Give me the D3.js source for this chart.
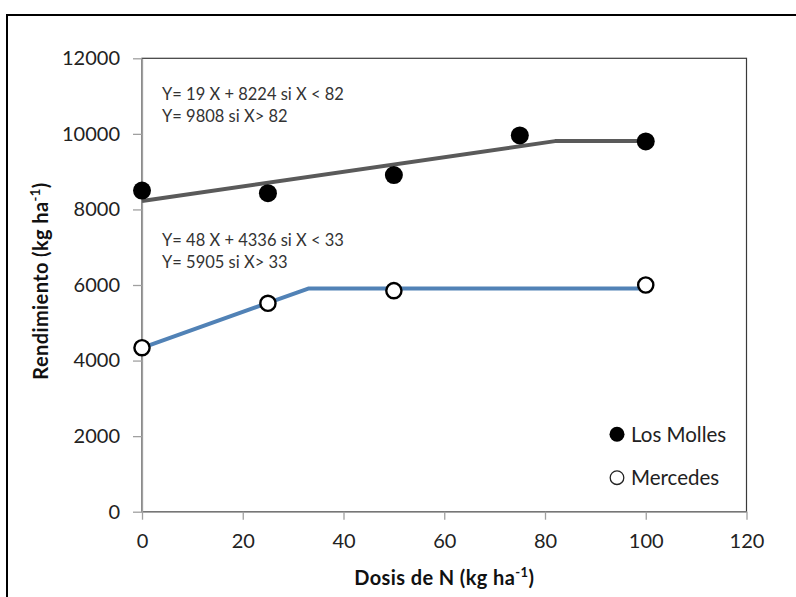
<!DOCTYPE html>
<html>
<head>
<meta charset="utf-8">
<script src="https://cdn.jsdelivr.net/npm/d3@7"></script>
<style>
  html, body { margin: 0; padding: 0; background: #fff; }
  svg { display: block; font-family: Lato, "Open Sans", sans-serif; }
</style>
</head>
<body>
<svg id="chart" width="796" height="597"></svg>
<script>
// Nitrogen dose (kg/ha) and grain yield (kg/ha) per site
const dosesMolles = [0, 25, 50, 75, 100];
const yieldMolles = [8500, 8430, 8910, 9960, 9800];
const dosesMercedes = [0, 25, 50, 100];
const yieldMercedes = [4340, 5515, 5850, 6000];

// Linear-plateau fits: slope, intercept, breakpoint, plateau
const fitMolles = { slope: 19, intercept: 8224, breakpoint: 82, plateau: 9808 };
const fitMercedes = { slope: 48, intercept: 4336, breakpoint: 33, plateau: 5905 };
const fitLabelsMolles = ["Y= 19 X + 8224 si X < 82", "Y= 9808 si X> 82"];
const fitLabelsMercedes = ["Y= 48 X + 4336 si X < 33", "Y= 5905 si X> 33"];

const xTicks = [0, 20, 40, 60, 80, 100, 120];
const yTicks = [0, 2000, 4000, 6000, 8000, 10000, 12000];
const seriesNames = ["Los Molles", "Mercedes"];

const svg = d3.select("#chart");
const plotLeft = 142, plotRight = 746.5, plotTop = 58.3, plotBottom = 511.7;

const x = d3.scaleLinear().domain([0, 120]).range([plotLeft, plotRight]);
const y = d3.scaleLinear().domain([0, 12000]).range([plotBottom, plotTop]);

// outer frame
svg.append("rect")
  .attr("x", 7).attr("y", 15).attr("width", 800).attr("height", 600)
  .attr("fill", "none").attr("stroke", "#000").attr("stroke-width", 2);

// plot area border
svg.append("rect")
  .attr("x", plotLeft).attr("y", plotTop)
  .attr("width", plotRight - plotLeft).attr("height", plotBottom - plotTop)
  .attr("fill", "none").attr("stroke", "#3a3a3a").attr("stroke-width", 1.2);

// axes
const axisColor = "#a0a0a0";
const gx = svg.append("g").attr("transform", `translate(0,${plotBottom})`)
  .call(d3.axisBottom(x).tickValues(xTicks).tickSizeInner(8).tickSizeOuter(0).tickPadding(14));
const gy = svg.append("g").attr("transform", `translate(${plotLeft},0)`)
  .call(d3.axisLeft(y).tickValues(yTicks).tickSizeInner(9).tickSizeOuter(0).tickPadding(13).tickFormat(d3.format("d")));
[gx, gy].forEach(g => {
  g.select(".domain").attr("stroke", axisColor).attr("stroke-width", 1.3);
  g.selectAll(".tick line").attr("stroke", axisColor).attr("stroke-width", 1.3);
  g.selectAll(".tick text").attr("fill", "#222").style("font-size", "20px")
    .style("font-family", "Lato, sans-serif");
});
gx.selectAll(".tick text").attr("dy", "0.71em");

// fitted linear-plateau lines
function fitPoints(f, xmax) {
  return [
    [0, f.intercept],
    [f.breakpoint, f.plateau],
    [xmax, f.plateau]
  ];
}
const line = d3.line().x(d => x(d[0])).y(d => y(d[1]));
svg.append("path").datum(fitPoints(fitMolles, 100))
  .attr("d", line).attr("fill", "none")
  .attr("stroke", "#5a5a5a").attr("stroke-width", 4).attr("stroke-linejoin", "round");
svg.append("path").datum(fitPoints(fitMercedes, 100))
  .attr("d", line).attr("fill", "none")
  .attr("stroke", "#5182b6").attr("stroke-width", 4).attr("stroke-linejoin", "round");

// observed points
svg.append("g").selectAll("circle")
  .data(dosesMolles.map((d, i) => [d, yieldMolles[i]]))
  .join("circle")
  .attr("cx", d => x(d[0])).attr("cy", d => y(d[1])).attr("r", 9)
  .attr("fill", "#000");
svg.append("g").selectAll("circle")
  .data(dosesMercedes.map((d, i) => [d, yieldMercedes[i]]))
  .join("circle")
  .attr("cx", d => x(d[0])).attr("cy", d => y(d[1])).attr("r", 7.6)
  .attr("fill", "#fff").attr("stroke", "#000").attr("stroke-width", 2.4);

// fit equations
function eqBlock(lines, x0, y0) {
  svg.append("g").selectAll("text").data(lines).join("text")
    .attr("x", x0).attr("y", (d, i) => y0 + i * 21.7)
    .attr("fill", "#333").style("font-size", "16.5px")
    .text(d => d);
}
eqBlock(fitLabelsMolles, 162, 100);
eqBlock(fitLabelsMercedes, 162, 246);

// legend
const legend = svg.append("g");
const legendRows = [
  { name: seriesNames[0], filled: true, y: 434.3 },
  { name: seriesNames[1], filled: false, y: 477.7 }
];
legendRows.forEach(r => {
  legend.append("circle").attr("cx", 617).attr("cy", r.y).attr("r", r.filled ? 7.5 : 6.8)
    .attr("fill", r.filled ? "#000" : "#fff")
    .attr("stroke", r.filled ? "none" : "#222").attr("stroke-width", 1.3);
  legend.append("text").attr("x", 631).attr("y", r.y + 7.4)
    .attr("fill", "#222").style("font-size", "20.5px").text(r.name);
});

// axis titles
const xt = svg.append("text").attr("x", (plotLeft + plotRight) / 2).attr("y", 585)
  .attr("text-anchor", "middle").attr("fill", "#111")
  .style("font-size", "20px").style("font-weight", "bold").style("letter-spacing", "0.4px");
xt.append("tspan").text("Dosis de N (kg ha");
xt.append("tspan").attr("dy", -8).style("font-size", "13px").text("-1");
xt.append("tspan").attr("dy", 8).text(")");

const yt = svg.append("text")
  .attr("transform", `translate(47.5,281) rotate(-90)`)
  .attr("text-anchor", "middle").attr("fill", "#111")
  .style("font-size", "20px").style("font-weight", "bold").style("letter-spacing", "0.4px");
yt.append("tspan").text("Rendimiento (kg ha");
yt.append("tspan").attr("dy", -8).style("font-size", "13px").text("-1");
yt.append("tspan").attr("dy", 8).text(")");
</script>
</body>
</html>
